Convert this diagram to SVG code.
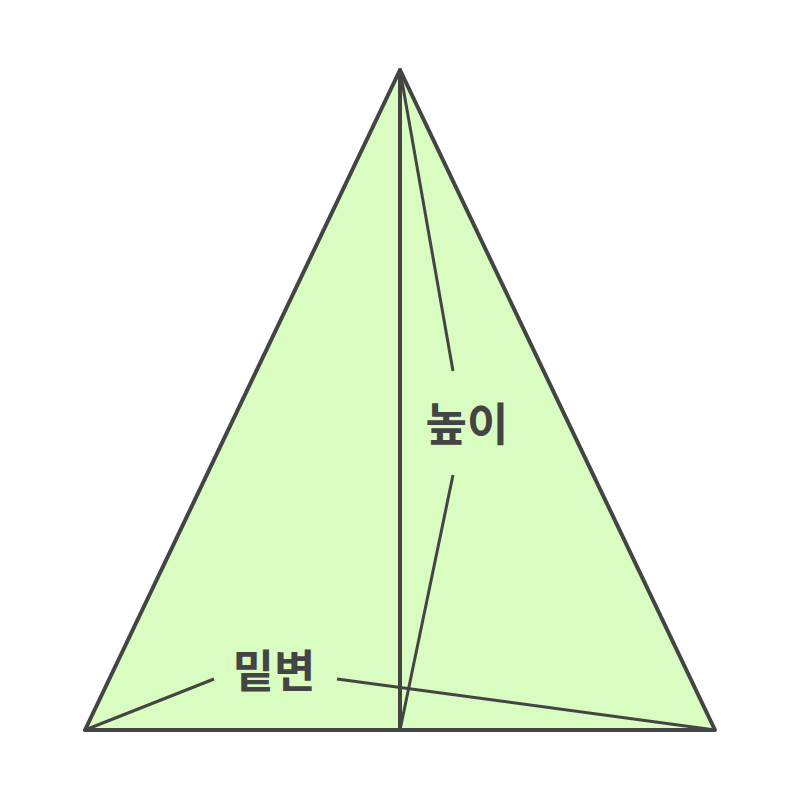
<svg xmlns="http://www.w3.org/2000/svg" width="800" height="800" viewBox="0 0 800 800">
<style>
.edge{stroke:#444;stroke-width:4;fill:none;stroke-linecap:round;stroke-linejoin:round}
.tri{fill:#d9fdc0}
.lbl{stroke:#444;stroke-width:3;fill:none;stroke-linecap:butt}
.t{font-family:"Noto Sans CJK KR","Noto Sans",sans-serif;font-weight:bold;font-size:45px;fill:#444;text-anchor:middle;dominant-baseline:central}
</style>
<rect width="800" height="800" fill="#fff"/>
<g id="triangle">
<polygon points="400,70 85,730 715,730" class="edge tri"/>
</g>
<g id="connectors">
<line class="edge" x1="400" y1="70" x2="400" y2="730"/>
<line class="lbl" x1="400" y1="70" x2="453" y2="371"/>
<line class="lbl" x1="453" y1="475" x2="400" y2="730"/>
<line class="lbl" x1="85" y1="730" x2="214" y2="679"/>
<line class="lbl" x1="337" y1="679" x2="715" y2="730"/>
</g>
<g id="label-height"><text class="t" x="467" y="421">높이</text></g>
<g id="label-base"><text class="t" x="274" y="668">밑변</text></g>
</svg>
